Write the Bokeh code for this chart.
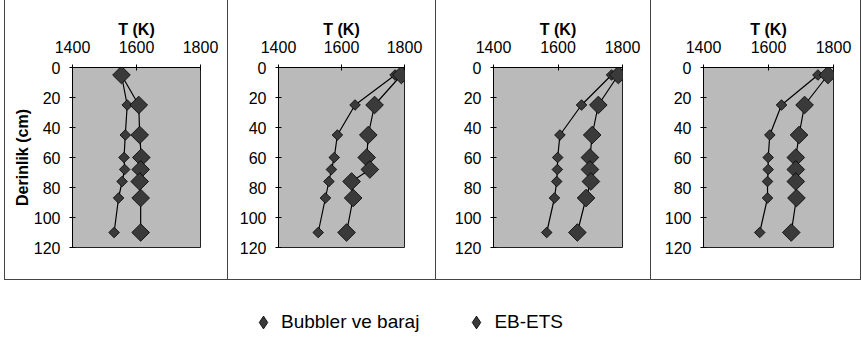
import numpy as np
from bokeh.plotting import figure
from bokeh.models import Range1d, FixedTicker, Legend, LegendItem, Spacer
from bokeh.layouts import row, column
from bokeh.embed import file_html
from bokeh.resources import INLINE

# ---- data ----
depth = [5, 25, 45, 60, 68, 76, 87, 110]          # Derinlik (cm)

bubbler_1 = [1553, 1571, 1565, 1561, 1563, 1555, 1544, 1530]
ebets_1   = [1553, 1607, 1610, 1615, 1613, 1610, 1613, 1613]

bubbler_2 = [1770, 1643, 1587, 1577, 1568, 1560, 1549, 1526]
ebets_2   = [1790, 1705, 1685, 1680, 1690, 1632, 1637, 1616]

bubbler_3 = [1766, 1673, 1606, 1599, 1598, 1596, 1589, 1565]
ebets_3   = [1787, 1725, 1706, 1699, 1699, 1702, 1687, 1660]

bubbler_4 = [1752, 1640, 1604, 1599, 1599, 1597, 1597, 1573]
ebets_4   = [1783, 1711, 1694, 1684, 1684, 1684, 1686, 1670]

x_ticks = [1400, 1600, 1800]
y_ticks = [0, 20, 40, 60, 80, 100, 120]
x_label = "T (K)"
y_label = "Derinlik (cm)"
series_names = ["Bubbler ve baraj", "EB-ETS"]

FONT = "Liberation Sans"
BG = "#bababa"
MK = "#3a3a3a"
ROT = np.pi / 4
FIG_H = 280


def make_panel(bub, eb, width, left, right, top, frame_h, ylab, last=False):
    bottom = FIG_H - top - frame_h
    border = "1px solid #444"
    styles = {"border-left": border, "border-bottom": border, "box-sizing": "border-box"}
    if last:
        styles["border-right"] = border
    p = figure(width=width, height=FIG_H, title=None,
               x_range=Range1d(1400, 1800), y_range=Range1d(120, 0),
               x_axis_location="above", output_backend="svg", toolbar_location=None,
               min_border_left=left, min_border_right=right,
               min_border_top=top, min_border_bottom=bottom,
               background_fill_color=BG, outline_line_color="#222",
               outline_line_width=1, styles=styles)
    p.grid.visible = False
    for ax in (p.xaxis[0], p.yaxis[0]):
        ax.major_label_text_font = FONT
        ax.major_label_text_font_size = "16px"
        ax.major_label_text_color = "black"
        ax.axis_label_text_font = FONT
        ax.axis_label_text_font_size = "16px"
        ax.axis_label_text_font_style = "bold"
        ax.axis_label_text_color = "black"
        ax.axis_line_color = "black"
        ax.major_tick_line_color = "black"
        ax.minor_tick_line_color = None
        ax.major_tick_in = 3
        ax.major_tick_out = 3
    p.xaxis.ticker = FixedTicker(ticks=x_ticks)
    p.yaxis.ticker = FixedTicker(ticks=y_ticks)
    p.xaxis.axis_label = x_label
    p.xaxis.major_label_standoff = 12
    p.xaxis.axis_label_standoff = 0
    p.yaxis.major_label_standoff = 9
    if ylab:
        p.yaxis.axis_label = y_label
        p.yaxis.axis_label_standoff = 0

    p.line(bub, depth, line_color="black", line_width=1.2)
    p.line(eb, depth, line_color="black", line_width=1.2)
    p.scatter(bub, depth, marker="square", angle=ROT, size=7.5,
              fill_color=MK, line_color="black", line_width=0.8)
    p.scatter(eb, depth, marker="square", angle=ROT, size=12.5,
              fill_color=MK, line_color="black", line_width=0.8)
    return p


p1 = make_panel(bubbler_1, ebets_1, 223, 67, 28, 64, 183, True)
p2 = make_panel(bubbler_2, ebets_2, 208, 50, 32, 62, 185, False)
p3 = make_panel(bubbler_3, ebets_3, 215, 57, 29, 67, 181, False)
p4 = make_panel(bubbler_4, ebets_4, 211, 52, 29, 65, 183, False, last=True)

# ---- legend strip ----
lf = figure(width=861, height=58, output_backend="svg", toolbar_location=None,
            title=None, x_range=Range1d(0, 1), y_range=Range1d(0, 1), min_border=0,
            outline_line_color=None)
lf.axis.visible = False
lf.grid.visible = False
r1 = lf.scatter([-5], [-5], marker="diamond", size=9,
                fill_color=MK, line_color="black", line_width=0.8)
r2 = lf.scatter([-5], [-5], marker="diamond", size=12,
                fill_color=MK, line_color="black", line_width=0.8)
legend = Legend(items=[LegendItem(label=series_names[0], renderers=[r1]),
                       LegendItem(label=series_names[1], renderers=[r2])],
                orientation="horizontal", location=(247, 0), spacing=41,
                label_standoff=2, glyph_width=32, glyph_height=32,
                padding=0, margin=0, border_line_color=None,
                background_fill_alpha=0, label_text_font=FONT,
                label_text_font_size="19px", label_text_color="black")
lf.add_layout(legend)

layout = column(row(Spacer(width=4, height=FIG_H), p1, p2, p3, p4), lf)
open("out.html", "w").write(file_html(layout, INLINE))
